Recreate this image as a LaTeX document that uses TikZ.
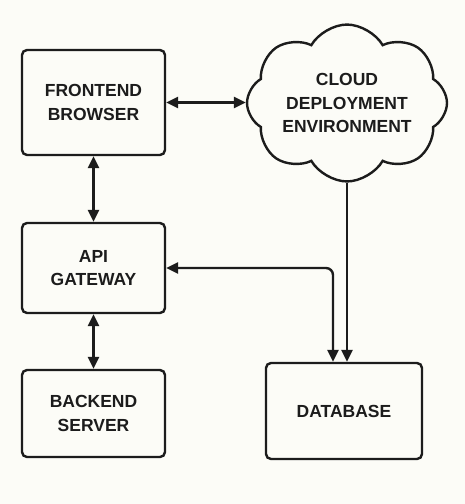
\documentclass[tikz,border=0pt]{standalone}
\usepackage{fontspec}
\setmainfont{Liberation Sans}
\usetikzlibrary{arrows.meta,shapes.symbols}
\definecolor{paper}{HTML}{FCFCF7}
\definecolor{ink}{HTML}{1C1C1C}
\begin{document}
\begin{tikzpicture}[x=1pt,y=-1pt,color=ink,line width=2.4pt,
  >={Triangle[length=12pt,width=11pt]},
  box/.style={draw,rounded corners=5pt,minimum width=143pt,inner sep=0pt,align=center,
    font=\fontsize{17.5}{23.3}\selectfont\bfseries}]
\fill[paper] (0,0) rectangle (465,504);
\node[box,minimum height=105pt] (front) at (93.5,102.5) {FRONTEND\\BROWSER};
\node[box,minimum height=90pt] (api) at (93.5,268) {API\\GATEWAY};
\node[box,minimum height=87pt] (back) at (93.5,413.5) {BACKEND\\SERVER};
\node[box,minimum width=156pt,minimum height=96pt] (db) at (344,411) {DATABASE};
\node[draw,shape=cloud,cloud puffs=8,cloud puff arc=120,aspect=1.45,minimum width=200pt,
  minimum height=134pt,inner sep=0pt,align=center,
  font=\fontsize{17.5}{23.3}\selectfont\bfseries] (cloud) at (347,103) {CLOUD\\DEPLOYMENT\\ENVIRONMENT};
\foreach \u/\v in {front/api,api/back}
  \draw[<->] (\u.south) -- (\v.north);
\draw[<->] (front.east) -- (front.east -| cloud.west);
\draw[<->,rounded corners=7pt] (api.east) -| ([xshift=-11pt]db.north);
\draw[->] (cloud.south) -- (cloud.south |- db.north);
\end{tikzpicture}
\end{document}
